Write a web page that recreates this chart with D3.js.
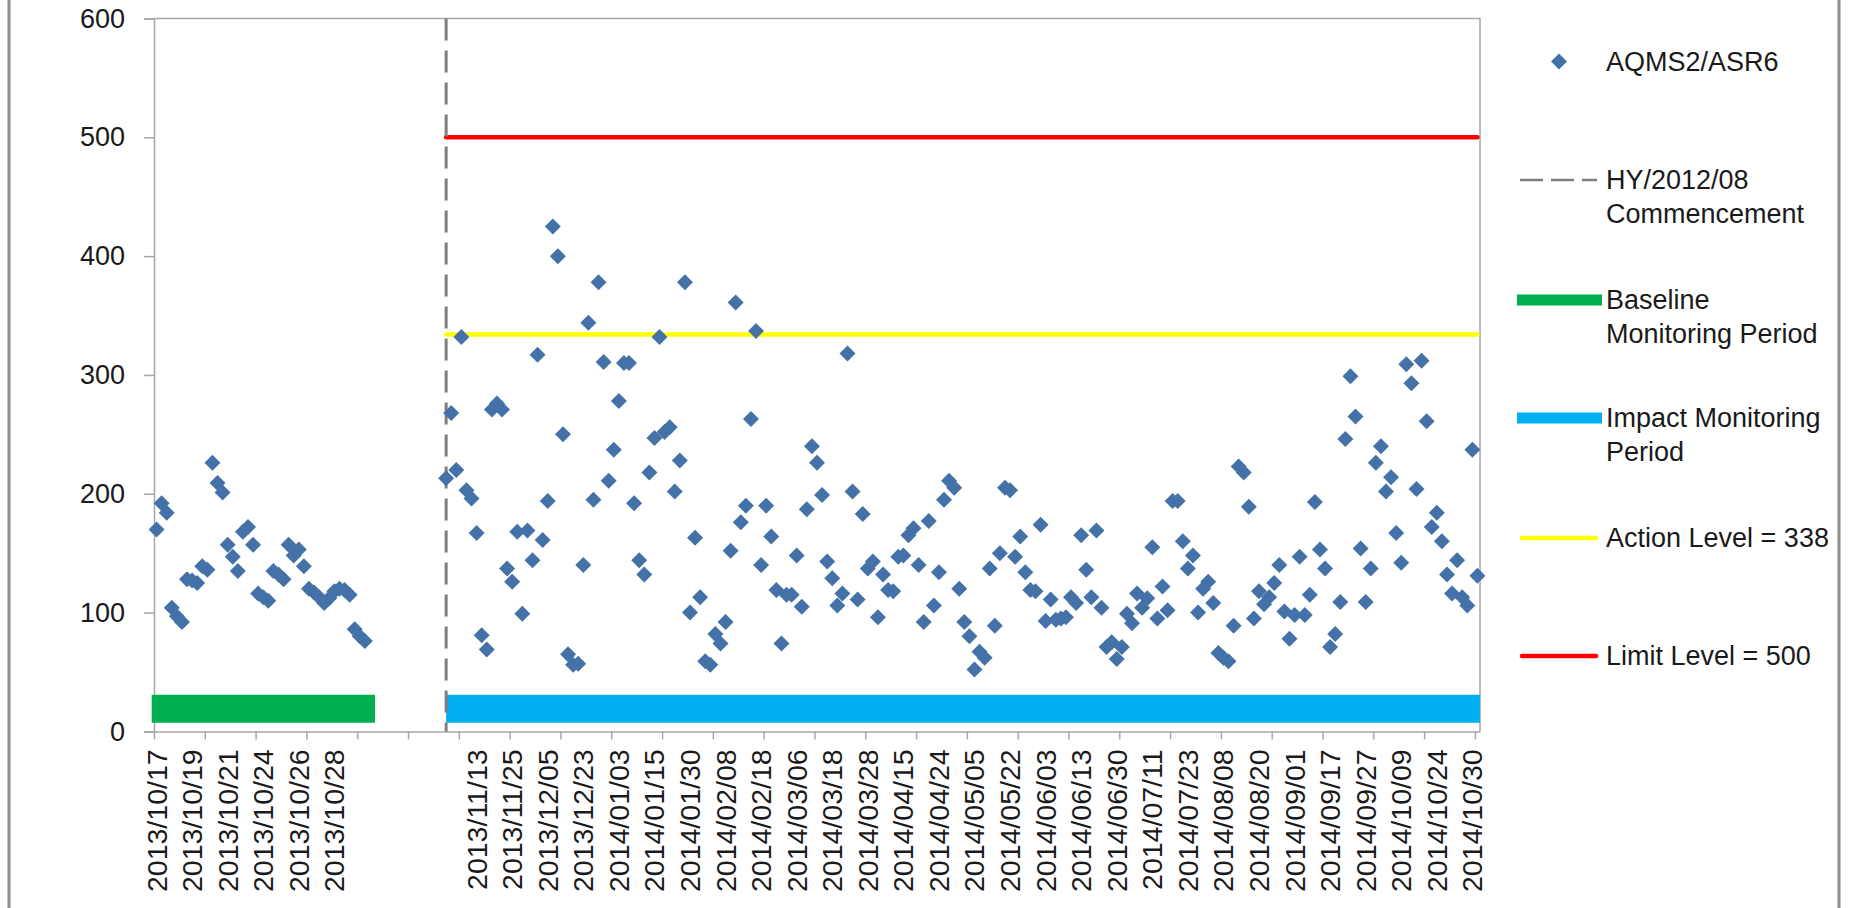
<!DOCTYPE html>
<html>
<head>
<meta charset="utf-8">
<script src="https://cdn.jsdelivr.net/npm/d3@7"></script>
<style>
  html, body { margin: 0; padding: 0; background: #fff; }
  svg { display: block; font-family: "Liberation Sans", Arial, sans-serif; }
</style>
</head>
<body>
<svg id="chart" width="1852" height="908"></svg>
<script>
// ---- Data ----
// category axis: one label every 7 categories, blanks in the gap between periods
const tickLabels = [
  '2013/10/17', '2013/10/19', '2013/10/21', '2013/10/24', '2013/10/26', '2013/10/28',
  '', '', '',
  '2013/11/13', '2013/11/25', '2013/12/05', '2013/12/23', '2014/01/03', '2014/01/15',
  '2014/01/30', '2014/02/08', '2014/02/18', '2014/03/06', '2014/03/18', '2014/03/28',
  '2014/04/15', '2014/04/24', '2014/05/05', '2014/05/22', '2014/06/03', '2014/06/13',
  '2014/06/30', '2014/07/11', '2014/07/23', '2014/08/08', '2014/08/20', '2014/09/01',
  '2014/09/17', '2014/09/27', '2014/10/09', '2014/10/24', '2014/10/30'
];
const labelEvery = 7;
const tickEvery = 10;
const categoryCount = 261;

// baseline readings, categories 1..42
const baselineValues = [
  170, 192, 184, 104, 97, 92, 128, 127, 125, 139, 136, 226, 209, 201,
  157, 147, 135, 168, 172, 157, 116, 113, 110, 135, 132, 128, 157, 148,
  153, 139, 120, 117, 113, 108, 112, 118, 120, 119, 115, 86, 80, 76
];

// impact readings, categories 58..261
const impactStart = 58;
const impactValues = [
  213, 268, 220, 332, 203, 196, 167, 81, 69, 271, 276, 271, 137, 126, 168, 99, 169,
  144, 317, 161, 194, 425, 400, 250, 65, 56, 57, 140, 344, 195, 378, 311, 211,
  237, 278, 310, 310, 192, 144, 132, 218, 247, 332, 252, 256, 202, 228, 378, 100,
  163, 113, 59, 56, 82, 74, 92, 152, 361, 176, 190, 263, 337, 140, 190, 164, 119,
  74, 115, 115, 148, 105, 187, 240, 226, 199, 143, 129, 106, 116, 318, 202, 111,
  183, 137, 143, 96, 132, 119, 118, 147, 148, 165, 171, 140, 92, 177, 106, 134, 195, 211,
  205, 120, 92, 80, 52, 67, 62, 137, 89, 150, 205, 203, 147, 164, 134, 119, 118,
  174, 93, 111, 94, 95, 96, 113, 108, 165, 136, 113, 169, 104, 71, 75, 61,
  71, 99, 91, 116, 104, 112, 155, 95, 122, 102, 194, 194, 160, 137, 148, 100, 120,
  126, 108, 66, 62, 59, 89, 223, 218, 189, 95, 118, 107, 113, 125, 140, 101, 78,
  98, 147, 98, 115, 193, 153, 137, 71, 82, 109, 246, 299, 265, 154, 109, 137, 226,
  240, 202, 214, 167, 142, 309, 293, 204, 312, 261, 172, 184, 160, 132, 116, 144,
  113, 106, 237, 131
];

const baselinePeriod = [1, 44];
const impactPeriod = [58, 261];
const periodBarValue = 19;
const actionLevel = 334;   // drawn position of the action level line
const limitLevel = 500;
const commencementCategory = 58;
const yTicks = [0, 100, 200, 300, 400, 500, 600];

const legendLabels = [
  ['AQMS2/ASR6'],
  ['HY/2012/08', 'Commencement'],
  ['Baseline', 'Monitoring Period'],
  ['Impact Monitoring', 'Period'],
  ['Action Level = 338'],
  ['Limit Level = 500']
];

// ---- Layout ----
const svg = d3.select('#chart');
const plot = {left: 154, top: 18.5, right: 1480, bottom: 731.4};
const axisColor = '#a6a6a6';
const textColor = '#1a1a1a';
const pointColor = '#4472a8';
const fontSize = 27;
const xLabelSize = 28.5;

// ---- Scales ----
const x = d3.scaleBand()
  .domain(d3.range(1, categoryCount + 1))
  .range([plot.left, plot.right])
  .padding(0);
const cx = c => x(c) + x.bandwidth() / 2;
const xEdge = d3.scaleLinear().domain([0, categoryCount]).range([plot.left, plot.right]);
const y = d3.scaleLinear().domain([0, 600]).range([plot.bottom, plot.top]);

// ---- Frame ----
svg.append('rect').attr('width', 1852).attr('height', 908).attr('fill', '#fff');
svg.append('line').attr('x1', 9).attr('x2', 9).attr('y1', 0).attr('y2', 908)
  .attr('stroke', '#8c8c8c').attr('stroke-width', 3);
svg.append('line').attr('x1', 1839).attr('x2', 1839).attr('y1', 0).attr('y2', 908)
  .attr('stroke', '#8c8c8c').attr('stroke-width', 3);

svg.append('path')
  .attr('d', `M${plot.left},${plot.top}H${plot.right}V${plot.bottom}`)
  .attr('fill', 'none').attr('stroke', axisColor).attr('stroke-width', 1.5);

// ---- Axes ----
const yAxis = svg.append('g')
  .attr('transform', `translate(${plot.left},0)`)
  .call(d3.axisLeft(y).tickValues(yTicks).tickSize(10).tickPadding(19));
yAxis.attr('font-size', null).attr('font-family', null);
yAxis.selectAll('path, line').attr('stroke', axisColor).attr('stroke-width', 1.5);
yAxis.selectAll('text').attr('fill', textColor).style('font-size', fontSize + 'px');

const xTicks = svg.append('g')
  .attr('transform', `translate(0,${plot.bottom})`)
  .call(d3.axisBottom(xEdge)
    .tickValues(d3.range(0, categoryCount, tickEvery))
    .tickSize(8).tickSizeOuter(0).tickFormat(''));
xTicks.selectAll('path, line').attr('stroke', axisColor).attr('stroke-width', 1.5);

const labelCats = d3.range(1, categoryCount + 1, labelEvery);
const xLabels = svg.append('g')
  .attr('transform', `translate(0,${plot.bottom})`)
  .call(d3.axisBottom(x)
    .tickValues(labelCats)
    .tickSize(0)
    .tickFormat(c => tickLabels[(c - 1) / labelEvery]));
xLabels.attr('font-size', null).attr('font-family', null);
xLabels.select('.domain').remove();
xLabels.selectAll('text')
  .attr('transform', 'rotate(-90)')
  .attr('text-anchor', 'end')
  .attr('x', -18)
  .attr('y', 0)
  .attr('dy', '0.35em')
  .attr('fill', textColor)
  .style('font-size', xLabelSize + 'px');

// ---- Period bars ----
const bars = svg.append('g');
bars.append('line')
  .attr('x1', x(baselinePeriod[0]) - 2.3).attr('x2', cx(baselinePeriod[1]))
  .attr('y1', y(periodBarValue)).attr('y2', y(periodBarValue))
  .attr('stroke', '#00b050').attr('stroke-width', 28);
bars.append('line')
  .attr('x1', cx(impactPeriod[0])).attr('x2', xEdge(categoryCount))
  .attr('y1', y(periodBarValue)).attr('y2', y(periodBarValue))
  .attr('stroke', '#00b0f0').attr('stroke-width', 28);

// ---- Level lines ----
const levels = [
  {value: actionLevel, color: '#ffff00'},
  {value: limitLevel, color: '#ff0000'}
];
svg.append('g').selectAll('line')
  .data(levels)
  .join('line')
  .attr('x1', cx(impactPeriod[0])).attr('x2', cx(impactPeriod[1]))
  .attr('y1', d => y(d.value)).attr('y2', d => y(d.value))
  .attr('stroke', d => d.color)
  .attr('stroke-width', 4.5)
  .attr('stroke-linecap', 'round');

// ---- Commencement line ----
svg.append('line')
  .attr('x1', cx(commencementCategory)).attr('x2', cx(commencementCategory))
  .attr('y1', plot.top).attr('y2', plot.bottom)
  .attr('stroke', '#7f7f7f').attr('stroke-width', 3)
  .attr('stroke-dasharray', '22,10');

// ---- Points ----
const points = [
  ...baselineValues.map((v, i) => ({cat: i + 1, value: v})),
  ...impactValues.map((v, i) => ({cat: impactStart + i, value: v}))
];
const diamond = d3.symbol(d3.symbolSquare, 128);
svg.append('g').selectAll('path')
  .data(points)
  .join('path')
  .attr('d', diamond)
  .attr('transform', d => `translate(${cx(d.cat)},${y(d.value)}) rotate(45)`)
  .attr('fill', pointColor);

// ---- Legend ----
const legend = svg.append('g').attr('font-size', fontSize).attr('fill', textColor);
const legendX = 1606;
const legendRows = [61.5, 180, 300, 418, 538, 656];
const lineGap = 34;

legendLabels.forEach((lines, i) => {
  const t = legend.append('text').attr('x', legendX).attr('y', legendRows[i]).attr('dy', '0.35em');
  lines.forEach((s, j) => {
    t.append('tspan').attr('x', legendX).attr('y', legendRows[i] + j * lineGap).attr('dy', '0.35em').text(s);
  });
});

legend.append('path')
  .attr('d', diamond)
  .attr('transform', `translate(1559,${legendRows[0]}) rotate(45)`)
  .attr('fill', pointColor);
legend.append('line')
  .attr('x1', 1520).attr('x2', 1597).attr('y1', legendRows[1]).attr('y2', legendRows[1])
  .attr('stroke', '#7f7f7f').attr('stroke-width', 2.5).attr('stroke-dasharray', '23,8');
legend.append('line')
  .attr('x1', 1517).attr('x2', 1602).attr('y1', legendRows[2]).attr('y2', legendRows[2])
  .attr('stroke', '#00b050').attr('stroke-width', 11);
legend.append('line')
  .attr('x1', 1517).attr('x2', 1602).attr('y1', legendRows[3]).attr('y2', legendRows[3])
  .attr('stroke', '#00b0f0').attr('stroke-width', 11);
legend.append('line')
  .attr('x1', 1522).attr('x2', 1596).attr('y1', legendRows[4]).attr('y2', legendRows[4])
  .attr('stroke', '#ffff00').attr('stroke-width', 4.5).attr('stroke-linecap', 'round');
legend.append('line')
  .attr('x1', 1522).attr('x2', 1596).attr('y1', legendRows[5]).attr('y2', legendRows[5])
  .attr('stroke', '#ff0000').attr('stroke-width', 4.5).attr('stroke-linecap', 'round');
</script>
</body>
</html>
